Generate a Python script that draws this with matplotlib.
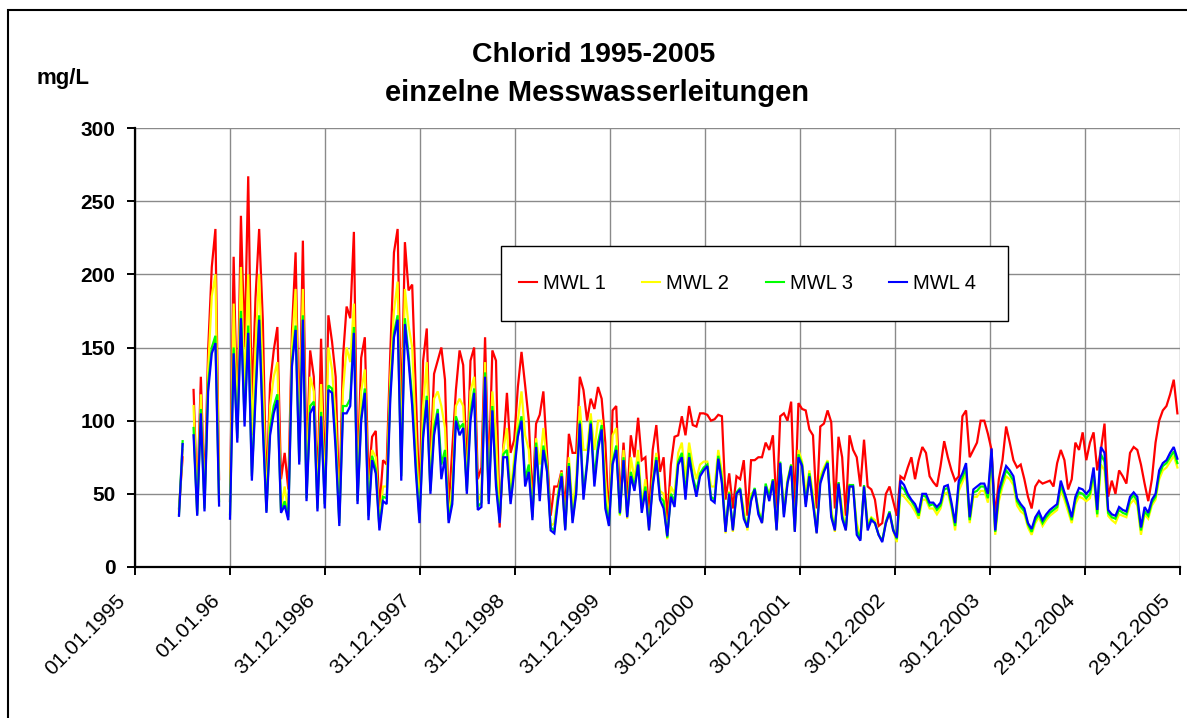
import numpy as np
import pandas as pd
import matplotlib
matplotlib.use('Agg')
import matplotlib.pyplot as plt
from matplotlib.transforms import ScaledTranslation
from matplotlib.patches import Rectangle

nan = np.nan

# ---------------- data ----------------
start_date = '1995-06-19'
step_days = 14

tick_dates = ['1995-01-01', '1996-01-01', '1996-12-31', '1997-12-31', '1998-12-31',
              '1999-12-31', '2000-12-30', '2001-12-30', '2002-12-30', '2003-12-30',
              '2004-12-29', '2005-12-29']
tick_labels = ['01.01.1995', '01.01.96', '31.12.1996', '31.12.1997', '31.12.1998',
               '31.12.1999', '30.12.2000', '30.12.2001', '30.12.2002', '30.12.2003',
               '29.12.2004', '29.12.2005']

series_names = ['MWL 1', 'MWL 2', 'MWL 3', 'MWL 4']

mwl1 = [40, 75, nan, nan, 121, 45, 130, 50, 148, 205,
        231, 60, nan, nan, 45, 212, 100, 240, 150, 267,
        110, 184, 231, 169, 50, 125, 148, 164, 60, 78,
        53, 161, 215, 90, 223, 70, 148, 130, 55, 156,
        59, 172, 154, 130, 40, 143, 178, 170, 229, 60,
        143, 157, 60, 89, 93, 40, 73, 70, 147, 215,
        231, 100, 222, 189, 193, 119, 45, 141, 163, 70,
        132, 141, 150, 128, 40, 80, 121, 148, 138, 65,
        141, 150, 60, 68, 157, 60, 148, 141, 27, 82,
        119, 78, 87, 123, 147, 124, 100, 45, 98, 104,
        120, 78, 35, 55, 55, 66, 40, 91, 78, 78,
        130, 121, 100, 115, 108, 123, 115, 85, 32, 107,
        110, 45, 85, 45, 90, 75, 102, 73, 75, 35,
        80, 97, 65, 75, 32, 70, 89, 90, 103, 90,
        110, 97, 96, 105, 105, 104, 100, 101, 104, 103,
        46, 64, 40, 62, 60, 73, 35, 73, 73, 75,
        75, 85, 80, 90, 40, 103, 105, 100, 113, 40,
        112, 108, 107, 94, 90, 40, 96, 98, 107, 99,
        40, 89, 75, 35, 90, 80, 75, 55, 87, 55,
        53, 46, 28, 30, 50, 55, 45, 35, 62, 60,
        68, 75, 60, 73, 82, 78, 62, 58, 55, 69,
        86, 75, 66, 59, 62, 103, 107, 75, 80, 85,
        100, 100, 91, 80, 34, 60, 73, 96, 85, 73,
        68, 70, 60, 48, 40, 55, 59, 57, 58, 59,
        55, 71, 80, 73, 53, 60, 85, 80, 92, 73,
        85, 92, 66, 80, 98, 48, 59, 50, 66, 62,
        57, 78, 82, 80, 70, 57, 45, 60, 85, 100,
        107, 110, 118, 128, 105]

mwl2 = [38, 80, nan, nan, 110, 38, 118, 42, 135, 185,
        200, 50, nan, nan, 40, 180, 95, 205, 120, 200,
        90, 150, 200, 130, 40, 110, 130, 140, 40, 55,
        36, 150, 190, 80, 190, 55, 130, 120, 45, 125,
        48, 150, 135, 100, 33, 120, 150, 140, 180, 48,
        120, 135, 40, 80, 75, 30, 55, 55, 130, 175,
        195, 75, 190, 165, 150, 90, 35, 110, 140, 56,
        115, 120, 110, 95, 33, 55, 110, 115, 110, 55,
        120, 130, 45, 50, 140, 48, 120, 90, 30, 80,
        95, 50, 75, 100, 120, 90, 80, 36, 88, 70,
        95, 70, 28, 30, 50, 65, 27, 75, 40, 60,
        110, 80, 80, 105, 80, 100, 100, 60, 30, 90,
        95, 35, 80, 33, 75, 60, 80, 42, 60, 25,
        60, 78, 52, 50, 19, 55, 50, 78, 85, 60,
        85, 70, 60, 70, 72, 72, 55, 55, 80, 65,
        23, 52, 24, 50, 52, 40, 25, 50, 52, 40,
        30, 55, 50, 60, 25, 70, 40, 60, 70, 24,
        80, 72, 50, 66, 50, 23, 62, 68, 73, 40,
        24, 58, 40, 25, 56, 54, 30, 20, 55, 30,
        34, 32, 22, 18, 30, 37, 25, 17, 50, 48,
        45, 42, 38, 33, 46, 46, 40, 40, 36, 40,
        50, 51, 40, 25, 52, 58, 64, 30, 48, 48,
        52, 52, 44, 74, 22, 45, 55, 62, 60, 56,
        42, 38, 36, 27, 22, 30, 34, 28, 32, 35,
        37, 39, 53, 46, 38, 30, 43, 48, 47, 45,
        47, 62, 34, 70, 66, 35, 32, 30, 36, 35,
        34, 43, 46, 42, 22, 36, 33, 42, 46, 60,
        66, 68, 72, 76, 68]

mwl3 = [36, 86, nan, nan, 95, 36, 108, 40, 125, 150,
        158, 45, nan, nan, 36, 150, 88, 175, 100, 165,
        62, 120, 172, 100, 38, 95, 110, 118, 38, 45,
        34, 140, 165, 72, 172, 47, 110, 113, 40, 106,
        43, 124, 122, 85, 30, 110, 110, 115, 164, 45,
        102, 122, 35, 76, 67, 27, 48, 47, 120, 160,
        172, 62, 170, 145, 115, 70, 32, 92, 117, 52,
        95, 108, 70, 80, 32, 46, 103, 95, 98, 52,
        105, 122, 41, 44, 133, 45, 110, 60, 32, 77,
        80, 45, 68, 92, 103, 60, 70, 34, 85, 50,
        83, 68, 27, 25, 48, 64, 26, 71, 32, 52,
        100, 50, 72, 100, 60, 85, 97, 45, 29, 72,
        83, 36, 75, 35, 65, 55, 72, 40, 55, 27,
        57, 75, 48, 45, 20, 50, 45, 72, 78, 50,
        78, 62, 52, 64, 68, 70, 48, 46, 76, 60,
        25, 51, 26, 51, 54, 35, 27, 47, 54, 38,
        31, 57, 48, 60, 26, 72, 36, 58, 70, 25,
        77, 70, 43, 64, 45, 24, 59, 66, 72, 36,
        26, 58, 35, 26, 56, 56, 25, 19, 56, 27,
        33, 30, 22, 18, 31, 38, 26, 19, 55, 53,
        48, 45, 41, 35, 49, 48, 42, 43, 39, 42,
        53, 54, 42, 28, 56, 61, 68, 32, 51, 52,
        55, 55, 47, 78, 24, 49, 58, 66, 63, 59,
        45, 41, 38, 29, 24, 32, 36, 30, 34, 37,
        39, 41, 56, 49, 41, 32, 46, 51, 50, 47,
        50, 65, 36, 77, 72, 37, 34, 33, 39, 37,
        36, 46, 49, 45, 25, 38, 35, 44, 48, 63,
        69, 71, 75, 79, 71]

mwl4 = [35, 84, nan, nan, 90, 35, 105, 38, 120, 146,
        153, 42, nan, nan, 33, 146, 85, 170, 96, 160,
        59, 115, 169, 95, 37, 90, 105, 114, 37, 42,
        32, 137, 162, 70, 169, 45, 105, 110, 38, 103,
        40, 121, 119, 80, 28, 105, 105, 110, 160, 43,
        100, 119, 32, 73, 64, 25, 45, 43, 115, 157,
        169, 59, 166, 141, 110, 65, 30, 88, 114, 50,
        90, 105, 60, 75, 30, 43, 100, 90, 95, 50,
        100, 119, 39, 41, 130, 43, 107, 55, 30, 75,
        75, 43, 65, 89, 100, 55, 65, 32, 82, 45,
        80, 65, 25, 23, 45, 62, 25, 69, 30, 50,
        98, 46, 70, 98, 55, 80, 94, 40, 28, 70,
        80, 37, 73, 34, 62, 52, 70, 37, 52, 25,
        55, 73, 46, 40, 21, 48, 41, 70, 75, 46,
        75, 60, 48, 62, 66, 69, 46, 44, 74, 57,
        24, 50, 25, 50, 53, 33, 27, 45, 53, 36,
        30, 55, 45, 59, 25, 71, 34, 57, 69, 24,
        75, 69, 41, 62, 43, 23, 57, 65, 71, 34,
        25, 57, 33, 25, 55, 55, 22, 18, 55, 25,
        32, 30, 22, 17, 30, 37, 25, 20, 59, 56,
        50, 46, 43, 37, 50, 50, 44, 44, 41, 44,
        55, 56, 44, 30, 59, 64, 71, 34, 53, 55,
        57, 57, 50, 81, 25, 52, 61, 69, 66, 62,
        47, 43, 40, 30, 26, 34, 38, 32, 36, 39,
        41, 43, 59, 51, 43, 34, 48, 54, 53, 50,
        53, 68, 39, 82, 78, 39, 36, 35, 41, 39,
        38, 48, 51, 48, 27, 41, 37, 46, 50, 66,
        71, 73, 78, 82, 74]

# ---------------- style ----------------
plt.rcParams['font.family'] = ['Liberation Sans', 'DejaVu Sans']
colors = ['#FF0000', '#FFFF00', '#00FF00', '#0000FF']

W, H = 1187, 718
fig = plt.figure(figsize=(W / 100, H / 100), dpi=100)
fig.patch.set_facecolor('white')

ax = fig.add_axes([135 / W, 1 - 567 / H, (1180 - 135) / W, (567 - 128) / H])

n = min(len(mwl1), len(mwl2), len(mwl3), len(mwl4))
dates = pd.date_range(start_date, periods=n, freq=f'{step_days}D')
for vals, c, name in zip([mwl1, mwl2, mwl3, mwl4], colors, series_names):
    ax.plot(dates, np.array(vals[:n], dtype=float), color=c, lw=1.6, label=name,
            solid_joinstyle='miter')

ax.set_xlim(pd.Timestamp(tick_dates[0]), pd.Timestamp(tick_dates[-1]))
ax.set_ylim(0, 300)
ax.set_yticks(range(0, 301, 50))
ax.set_xticks(pd.to_datetime(tick_dates))
ax.set_xticklabels(tick_labels)

ax.grid(True, color='#8a8a8a', lw=1.0)
ax.set_axisbelow(True)
for s in ['top', 'right']:
    ax.spines[s].set_visible(False)
for s in ['left', 'bottom']:
    ax.spines[s].set_color('black')
    ax.spines[s].set_linewidth(1.6)

ax.tick_params(axis='both', direction='out', length=6, width=1.4, color='black')
ax.tick_params(axis='y', labelsize=15, pad=8)
for lab in ax.get_yticklabels():
    lab.set_fontweight('bold')
ax.tick_params(axis='x', labelsize=15, pad=16)
offset = ScaledTranslation(-13 / 100, 0, fig.dpi_scale_trans)
for lab in ax.get_xticklabels():
    lab.set_rotation(45)
    lab.set_ha('right')
    lab.set_va('center')
    lab.set_rotation_mode('anchor')
    lab.set_transform(lab.get_transform() + offset)

# legend entries (frameless) + separate box
leg = ax.legend(loc='center left', bbox_to_anchor=(519 / W, 1 - 283.5 / H),
                bbox_transform=fig.transFigure, ncol=4, fontsize=14.5,
                frameon=False, handlelength=0.9, handletextpad=0.3,
                columnspacing=1.8, borderpad=0, borderaxespad=0)
for h in leg.get_lines():
    h.set_linewidth(1.5)
fig.add_artist(Rectangle((501 / W, 1 - 321 / H), (1008 - 501) / W, (321 - 246) / H,
                         transform=fig.transFigure, facecolor='white',
                         edgecolor='black', lw=1.0, zorder=4))
leg.set_zorder(5)
fig.add_artist(leg)

fig.text(0.5, 1 - 62 / H, 'Chlorid 1995-2005', ha='center', va='baseline',
         fontsize=20.5, fontweight='bold')
fig.text(0.503, 1 - 101 / H, 'einzelne Messwasserleitungen', ha='center',
         va='baseline', fontsize=21, fontweight='bold')
fig.text(36 / W, 1 - 84 / H, 'mg/L', ha='left', va='baseline', fontsize=16,
         fontweight='bold')

fig.add_artist(Rectangle((7.5 / W, -0.1), 1.2, (1 - 10 / H) + 0.1,
                         transform=fig.transFigure, fill=False,
                         edgecolor='black', lw=1.5))

fig.savefig('out.png', dpi=100)
